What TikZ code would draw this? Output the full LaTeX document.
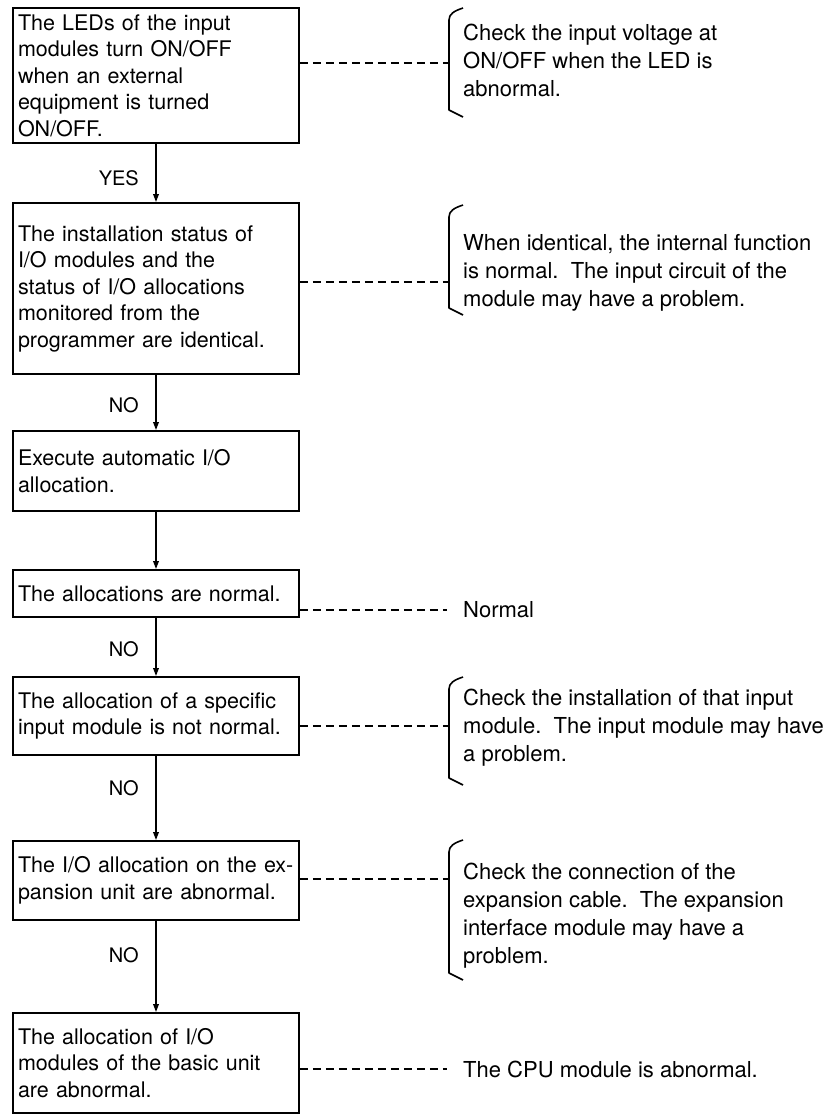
\documentclass[tikz,border=0pt]{standalone}
\usepackage{fontspec}
\setmainfont{TeX Gyre Heros}
\usetikzlibrary{arrows.meta}
\begin{document}
\begin{tikzpicture}[x=1pt,y=-1pt,
  box/.style={draw, line width=1.8pt, minimum width=286pt, text width=276pt,
    inner xsep=5pt, inner ysep=0pt, align=left,
    font=\fontsize{21.5}{26.5}\selectfont},
  flow/.style={line width=1.6pt, -{Triangle[length=8pt,width=5.5pt]}},
  dashlink/.style={line width=1.4pt, dash pattern=on 8pt off 5pt},
  brk/.style={line width=1.6pt, line join=round},
  note/.style={anchor=north west, align=left, inner sep=0pt,
    font=\fontsize{22}{28}\selectfont},
  endnote/.style={anchor=west, align=left, inner ysep=0pt, inner xsep=16pt,
    font=\fontsize{22}{28}\selectfont},
  lab/.style={anchor=east, inner sep=0pt, font=\fontsize{20}{24}\selectfont}
]
\useasboundingbox (0,0) rectangle (832,1117);

% boxes
\node[box, minimum height=135pt] (b1) at (156,75.5)
  {The LEDs of the input\\modules turn ON/OFF\\when an external\\equipment is turned\\ON/OFF.};
\node[box, minimum height=171pt] (b2) at (156,288.5)
  {The installation status of\\I/O modules and the\\status of I/O allocations\\monitored from the\\programmer are identical.};
\node[box, minimum height=80pt] (b3) at (156,471)
  {Execute automatic I/O\\allocation.};
\node[box, minimum height=47pt] (b4) at (156,593.5)
  {The allocations are normal.};
\node[box, minimum height=78pt] (b5) at (156,716)
  {The allocation of a specific\\input module is not normal.};
\node[box, minimum height=79pt] (b6) at (156,880.5)
  {The I/O allocation on the ex-\\pansion unit are abnormal.};
\node[box, minimum height=100pt] (b7) at (156,1063)
  {The allocation of I/O\\modules of the basic unit\\are abnormal.};

% flow arrows
\draw[flow] (b1) -- (b2);
\draw[flow] (b2) -- (b3);
\draw[flow] (b3) -- (b4);
\draw[flow] (b4) -- (b5);
\draw[flow] (b5) -- (b6);
\draw[flow] (b6) -- (b7);

% labels
\node[lab] (l1) at (139,178) {YES};
\node[lab] (l2) at (139,405) {NO};
\node[lab] (l3) at (139,649) {NO};
\node[lab] (l4) at (139,788) {NO};
\node[lab] (l5) at (139,955) {NO};

% brace attachment points
\coordinate (k1) at (449,63);
\coordinate (k2) at (449,282);
\coordinate (k5) at (449,726);
\coordinate (k6) at (449,879);

% brackets
\draw[brk] (463,8) .. controls (454,11) and (449,14) .. (449,20) -- (449,110) -- (463,117);
\draw[brk] (463,205) .. controls (454,208) and (449,211) .. (449,217) -- (449,308) -- (463,315);
\draw[brk] (463,677) .. controls (454,680) and (449,683) .. (449,689) -- (449,778) -- (463,785);
\draw[brk] (463,840) .. controls (454,843) and (449,846) .. (449,852) -- (449,973) -- (463,980);

% notes
\node[note] (n1) at (463,24)
  {Check the input voltage at\\ON/OFF when the LED is\\abnormal.};
\node[note] (n2) at (463,234)
  {When identical, the internal function\\is normal.\ \ The input circuit of the\\module may have a problem.};
\node[note] (n5) at (463,689)
  {Check the installation of that input\\module.\ \ The input module may have\\a problem.};
\node[note] (n6) at (463,863)
  {Check the connection of the\\expansion cable.\ \ The expansion\\interface module may have a\\problem.};
\node[endnote] (n4) at (447,610) {Normal};
\node[endnote] (n7) at (447,1069) {The CPU module is abnormal.};

% dashed connectors
\draw[dashlink] (b1.east |- k1) -- (k1);
\draw[dashlink] (b2.east |- k2) -- (k2);
\draw[dashlink] (b4.east |- n4.west) -- (n4.west);
\draw[dashlink] (b5.east |- k5) -- (k5);
\draw[dashlink] (b6.east |- k6) -- (k6);
\draw[dashlink] (b7.east |- n7.west) -- (n7.west);
\end{tikzpicture}
\end{document}
